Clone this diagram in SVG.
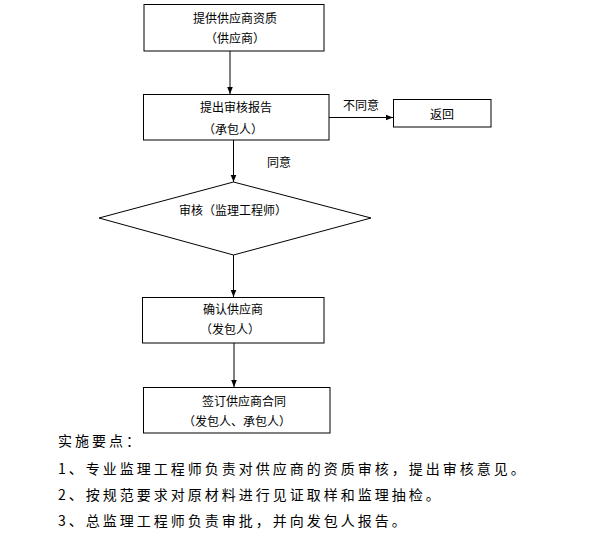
<svg xmlns="http://www.w3.org/2000/svg" width="591" height="551" viewBox="0 0 591 551">
<style>
.box{fill:#fff;stroke:#000;stroke-width:1}
.t{font-family:"Noto Sans CJK SC","Liberation Sans",sans-serif;font-size:12px;fill:#000;text-anchor:middle;dominant-baseline:central}
.n{font-family:"Noto Sans CJK SC","Liberation Sans",sans-serif;font-size:14px;fill:#000;letter-spacing:3px;dominant-baseline:central}
.c{stroke:#000;stroke-width:1;fill:none}
</style>
<defs>
<marker id="ah" viewBox="0 0 10 10" refX="10" refY="5" markerWidth="7" markerHeight="7" markerUnits="userSpaceOnUse" orient="auto">
<path d="M0,1 L10,5 L0,9 Z" fill="#000"/>
</marker>
</defs>
<rect width="591" height="551" fill="#fff"/>
<g id="connectors">
<line class="c" x1="230" y1="51" x2="230" y2="94" marker-end="url(#ah)"/>
<line class="c" x1="329" y1="117.5" x2="393" y2="117.5" marker-end="url(#ah)"/>
<line class="c" x1="233.5" y1="140" x2="233.5" y2="182" marker-end="url(#ah)"/>
<line class="c" x1="233.5" y1="255" x2="233.5" y2="297" marker-end="url(#ah)"/>
<line class="c" x1="234" y1="343" x2="234" y2="387" marker-end="url(#ah)"/>
<text class="t" x="361" y="104">不同意</text>
<text class="t" x="279" y="161">同意</text>
</g>
<g id="n1">
<rect class="box" x="144" y="4.5" width="180" height="46.5"/>
<text class="t" x="235" y="17">提供供应商资质</text>
<text class="t" x="235" y="37">（供应商）</text>
</g>
<g id="n2">
<rect class="box" x="143.5" y="94.5" width="185.5" height="45.5"/>
<text class="t" x="236" y="106">提出审核报告</text>
<text class="t" x="233" y="128">（承包人）</text>
</g>
<g id="n3">
<rect class="box" x="393.5" y="99.5" width="97.5" height="27.5"/>
<text class="t" x="442" y="113">返回</text>
</g>
<g id="n4">
<polygon class="box" points="233.5,182 371,218 233.5,255 99,218"/>
<text class="t" x="233" y="209">审核（监理工程师）</text>
</g>
<g id="n5">
<rect class="box" x="142.5" y="297.5" width="181.5" height="45.5"/>
<text class="t" x="233" y="308">确认供应商</text>
<text class="t" x="230" y="328">（发包人）</text>
</g>
<g id="n6">
<rect class="box" x="143.5" y="387.5" width="186.5" height="45.5"/>
<text class="t" x="244" y="400">签订供应商合同</text>
<text class="t" x="237" y="420">（发包人、承包人）</text>
</g>
<g id="notes">
<text class="n" x="58" y="440">实施要点：</text>
<text class="n" x="58" y="468">1、专业监理工程师负责对供应商的资质审核，提出审核意见。</text>
<text class="n" x="58" y="494">2、按规范要求对原材料进行见证取样和监理抽检。</text>
<text class="n" x="58" y="520">3、总监理工程师负责审批，并向发包人报告。</text>
</g>
</svg>
